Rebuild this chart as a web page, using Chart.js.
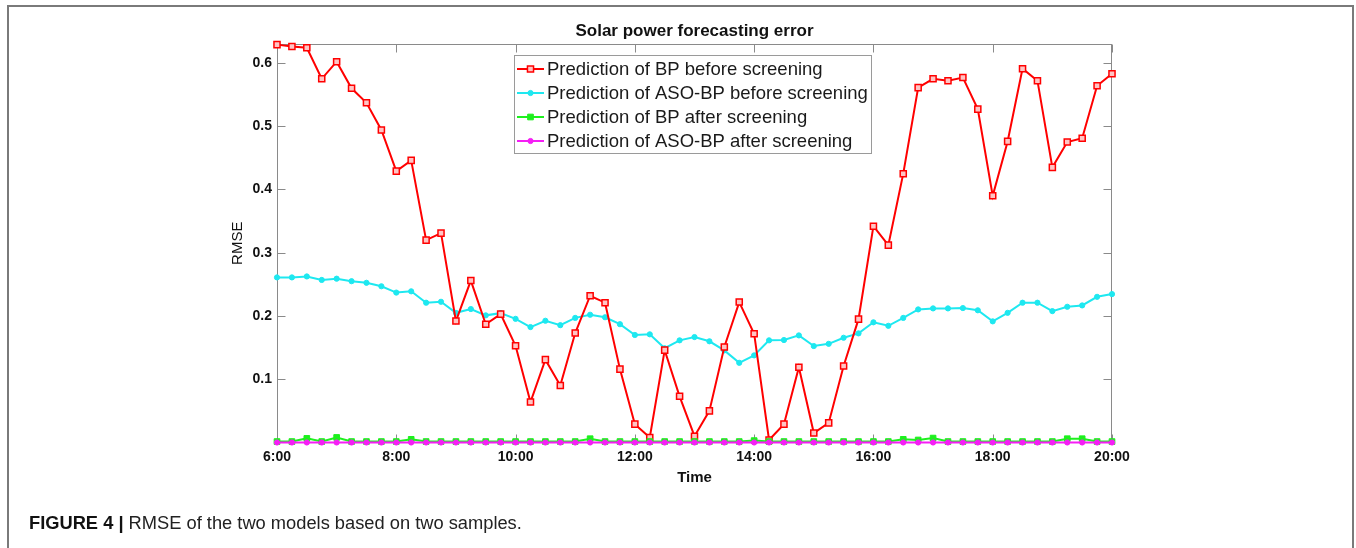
<!DOCTYPE html>
<html>
<head>
<meta charset="utf-8">
<script src="https://cdn.jsdelivr.net/npm/chart.js@4.4.1/dist/chart.umd.min.js"></script>
<style>
html,body{margin:0;padding:0;background:#fff;overflow:hidden;width:1356px;height:548px;}
#frame{position:absolute;left:7px;top:5px;width:1347px;height:620px;border:2px solid #7a7a7a;border-bottom:none;box-sizing:border-box;background:#fff;}
#wrap{position:absolute;left:0;top:0;width:1356px;height:548px;}
#caption{position:absolute;left:29px;top:512px;font-family:"Liberation Sans",Arial,Helvetica,sans-serif;font-size:18.3px;color:#222;white-space:nowrap;line-height:22px;}
#caption b{font-weight:bold;color:#111;}
</style>
</head>
<body>
<div id="frame"></div>
<div id="wrap"><canvas id="c" width="1356" height="548"></canvas></div>
<div id="caption"><b>FIGURE 4 |</b> RMSE of the two models based on two samples.</div>
<script>
// ---------- data ----------
const timeLabels = ["6:00","6:15","6:30","6:45","7:00","7:15","7:30","7:45",
  "8:00","8:15","8:30","8:45","9:00","9:15","9:30","9:45",
  "10:00","10:15","10:30","10:45","11:00","11:15","11:30","11:45",
  "12:00","12:15","12:30","12:45","13:00","13:15","13:30","13:45",
  "14:00","14:15","14:30","14:45","15:00","15:15","15:30","15:45",
  "16:00","16:15","16:30","16:45","17:00","17:15","17:30","17:45",
  "18:00","18:15","18:30","18:45","19:00","19:15","19:30","19:45","20:00"];
const yTickValues = [0.1,0.2,0.3,0.4,0.5,0.6];
const seriesNames = ["Prediction of BP before screening","Prediction of ASO-BP before screening",
  "Prediction of BP after screening","Prediction of ASO-BP after screening"];
const bpBefore = [0.629,0.626,0.624,0.575,0.602,0.560,0.537,0.494,
  0.429,0.446,0.320,0.331,0.192,0.256,0.187,0.203,
  0.153,0.064,0.131,0.090,0.173,0.232,0.221,0.116,
  0.029,0.008,0.146,0.073,0.010,0.050,0.151,0.222,
  0.172,0.004,0.029,0.119,0.015,0.031,0.121,0.195,
  0.342,0.312,0.425,0.561,0.575,0.572,0.577,0.527,
  0.390,0.476,0.591,0.572,0.435,0.475,0.481,0.564,0.583];
const asoBefore = [0.261,0.261,0.2625,0.257,0.259,0.255,0.2525,0.247,
  0.237,0.239,0.221,0.2225,0.205,0.211,0.201,0.2045,
  0.1955,0.1825,0.1925,0.1855,0.197,0.202,0.198,0.187,
  0.170,0.171,0.149,0.1615,0.1667,0.160,0.1456,0.126,
  0.1377,0.1615,0.162,0.1693,0.1525,0.156,0.1656,0.1725,
  0.190,0.1845,0.197,0.2104,0.212,0.212,0.2125,0.209,
  0.1915,0.205,0.221,0.221,0.2077,0.2146,0.2167,0.2303,0.2346];
const bpAfter = [0.0015,0.0015,0.0065,0.0015,0.008,0.0015,0.0015,0.0015,
  0.0015,0.005,0.0015,0.0015,0.0015,0.0015,0.0015,0.0015,
  0.0015,0.0015,0.0015,0.0015,0.0015,0.006,0.0015,0.0015,
  0.0015,0.0015,0.0015,0.0015,0.0015,0.0015,0.0015,0.0015,
  0.003,0.0015,0.0015,0.0015,0.0015,0.0015,0.0015,0.0015,
  0.0015,0.0015,0.005,0.004,0.007,0.0015,0.0015,0.0015,
  0.0015,0.0015,0.0015,0.0015,0.0015,0.006,0.006,0.0015,0.0015];
const asoAfter = [0,0,0,0,0,0,0,0, 0,0,0,0,0,0,0,0, 0,0,0,0,0,0,0,0,
  0,0,0,0,0,0,0,0, 0,0,0,0,0,0,0,0, 0,0,0,0,0,0,0,0, 0,0,0,0,0,0,0,0,0];

// ---------- styling ----------
const FONT = '"Liberation Sans", Arial, Helvetica, sans-serif';
const RED = '#ff0000', CYAN = '#1ee8f0', GREEN = '#1ef01e', MAGENTA = '#f51ef5';
const AXIS = '#8a8a8a';

const axisBox = {
  id: 'axisBox',
  beforeDatasetsDraw(chart) {
    const {ctx, chartArea: a, scales: {x, y}} = chart;
    const L = Math.round(a.left) + 0.5, R = Math.round(a.right) - 0.5;
    const T = Math.round(a.top) + 0.5, B = Math.floor(a.bottom) + 0.5;
    ctx.save();
    ctx.strokeStyle = AXIS; ctx.lineWidth = 1;
    ctx.strokeRect(L, T, R - L, B - T);
    const tl = 8;
    ctx.beginPath();
    x.ticks.forEach(t => {
      const px = Math.round(x.getPixelForValue(t.value)) + 0.5;
      ctx.moveTo(px, B); ctx.lineTo(px, B - tl);
      ctx.moveTo(px, T); ctx.lineTo(px, T + tl);
    });
    y.ticks.forEach(t => {
      const py = Math.round(y.getPixelForValue(t.value)) + 0.5;
      ctx.moveTo(L, py); ctx.lineTo(L + tl, py);
      ctx.moveTo(R, py); ctx.lineTo(R - tl, py);
    });
    ctx.stroke();
    ctx.restore();
  },
  afterDatasetsDraw(chart) {
    const ctx = chart.ctx;
    const bx = 514.5, by = 55.5, bw = 357, bh = 98;
    ctx.save();
    ctx.fillStyle = '#fff';
    ctx.fillRect(bx, by, bw, bh);
    ctx.strokeStyle = '#9a9a9a'; ctx.lineWidth = 1;
    ctx.strokeRect(bx, by, bw, bh);
    ctx.font = '18.5px ' + FONT;
    ctx.textBaseline = 'middle';
    ctx.textAlign = 'left';
    chart.data.datasets.forEach((ds, i) => {
      const yy = 69 + 24 * i;
      ctx.strokeStyle = ds.borderColor; ctx.lineWidth = 2;
      ctx.beginPath(); ctx.moveTo(517, yy); ctx.lineTo(544, yy); ctx.stroke();
      ctx.fillStyle = ds.pointBackgroundColor;
      ctx.strokeStyle = ds.pointBorderColor;
      ctx.lineWidth = ds.pointBorderWidth;
      Chart.helpers.drawPoint(ctx, {pointStyle: ds.pointStyle, radius: ds.pointRadius, borderWidth: ds.pointBorderWidth, rotation: 0}, 530.5, yy);
      ctx.fillStyle = '#1a1a1a';
      ctx.fillText(ds.label, 547, yy + 1);
    });
    ctx.restore();
  }
};

const ctx = document.getElementById('c').getContext('2d');
new Chart(ctx, {
  type: 'line',
  data: {
    labels: timeLabels,
    datasets: [
      {label: seriesNames[0], data: bpBefore, borderColor: RED, backgroundColor: RED, borderWidth: 2,
       pointStyle: 'rect', pointRadius: 4.3, pointBorderWidth: 1.5, pointBorderColor: RED, pointBackgroundColor: '#ffc4c4',
       order: 2, clip: false, tension: 0},
      {label: seriesNames[1], data: asoBefore, borderColor: CYAN, backgroundColor: CYAN, borderWidth: 2,
       pointStyle: 'circle', pointRadius: 2.6, pointBorderWidth: 1, pointBorderColor: CYAN, pointBackgroundColor: CYAN,
       order: 3, clip: false, tension: 0},
      {label: seriesNames[2], data: bpAfter, borderColor: GREEN, backgroundColor: GREEN, borderWidth: 2,
       pointStyle: 'rect', pointRadius: 4, pointBorderWidth: 1, pointBorderColor: GREEN, pointBackgroundColor: GREEN,
       order: 1, clip: false, tension: 0},
      {label: seriesNames[3], data: asoAfter, borderColor: MAGENTA, backgroundColor: MAGENTA, borderWidth: 2,
       pointStyle: 'circle', pointRadius: 2.6, pointBorderWidth: 1, pointBorderColor: MAGENTA, pointBackgroundColor: MAGENTA,
       order: 0, clip: false, tension: 0}
    ]
  },
  options: {
    responsive: false,
    animation: false,
    devicePixelRatio: 1,
    events: [],
    layout: {padding: {left: 200, right: 244, top: 0, bottom: 0}},
    plugins: {
      legend: {display: false},
      tooltip: {enabled: false},
      title: {
        display: true, text: 'Solar power forecasting error', fullSize: false, color: '#111',
        font: {family: FONT, size: 17, weight: 'bold', lineHeight: 1.2},
        padding: {top: 21, bottom: 2.6}
      }
    },
    scales: {
      x: {
        type: 'category', offset: false,
        grid: {display: false, drawTicks: false}, border: {display: false},
        afterBuildTicks: s => { s.ticks = s.ticks.filter(t => timeLabels[t.value].endsWith(':00') && parseInt(timeLabels[t.value]) % 2 === 0); },
        ticks: {autoSkip: false, maxRotation: 0, minRotation: 0, padding: 6, color: '#111',
                font: {family: FONT, size: 14, weight: 'bold', lineHeight: 1.2}},
        title: {display: true, text: 'Time', color: '#111',
                font: {family: FONT, size: 15, weight: 'bold', lineHeight: 1.2}, padding: {top: 0, bottom: 61}},
        afterFit: s => { s.height = 105.5; }
      },
      y: {
        min: 0, max: 0.63,
        grid: {display: false, drawTicks: false}, border: {display: false},
        afterBuildTicks: s => { s.ticks = yTickValues.map(v => ({value: v})); },
        ticks: {padding: 5, color: '#111', callback: v => Number(v).toFixed(1),
                font: {family: FONT, size: 14, weight: 'bold', lineHeight: 1.2}},
        title: {display: true, text: 'RMSE', color: '#111',
                font: {family: FONT, size: 15, weight: 'normal', lineHeight: 1.2}, padding: {top: 29, bottom: 0}},
        afterFit: s => { s.width = 77; }
      }
    }
  },
  plugins: [axisBox]
});
</script>
</body>
</html>
